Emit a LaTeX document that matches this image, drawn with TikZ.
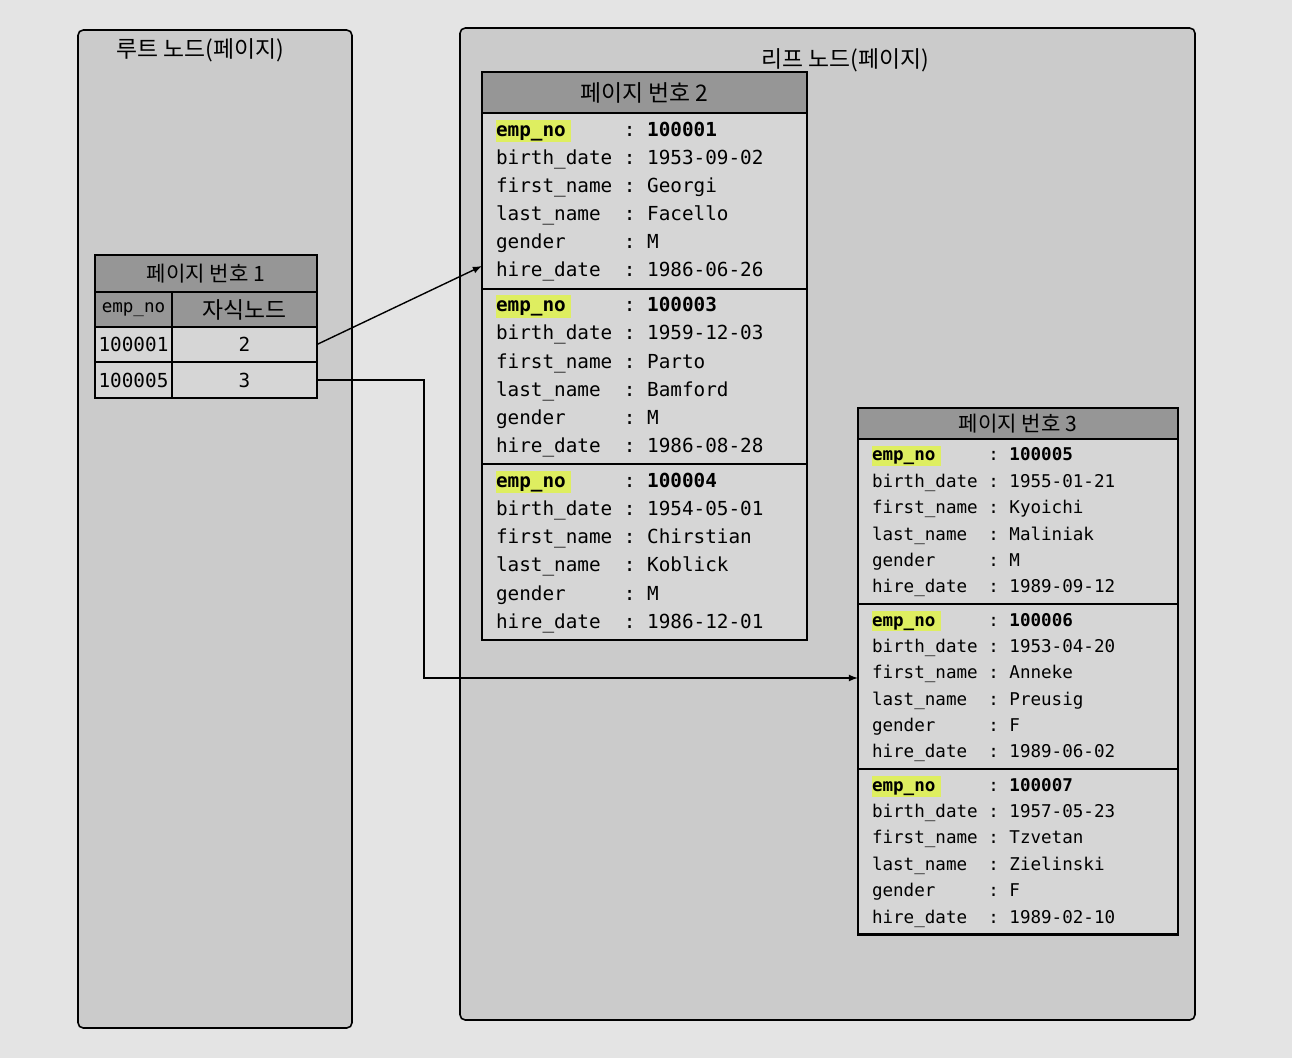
\documentclass[tikz,border=0pt]{standalone}
\usepackage{fontspec}
\setmonofont{DejaVu Sans Mono}
\newfontfamily\kr{Noto Sans CJK KR}
\usetikzlibrary{positioning}

\definecolor{pagebg}{RGB}{228,228,228}
\definecolor{panelgray}{RGB}{203,203,203}
\definecolor{bodygray}{RGB}{214,214,214}
\definecolor{headgray}{RGB}{150,150,150}
\definecolor{marker}{RGB}{222,238,96}

% yellow marker stroke behind a word
\newcommand\marked[1]{\rlap{\color{marker}\rule[-0.3em]{3.9em}{1.15em}}#1}
% one employee record
\newcommand\emprec[6]{\begin{tabular}{@{}l@{\hspace{0.6em}:\hspace{0.6em}}l@{}}
\marked{\textbf{emp\_no}}\hspace*{2.4em} & \textbf{#1}\\
birth\_date & #2\\
first\_name & #3\\
last\_name & #4\\
gender & #5\\
hire\_date & #6
\end{tabular}}

\begin{document}
\begin{tikzpicture}
        [x=0.02cm, y=-0.02cm,
        panel/.style={draw, line width=0.9pt, fill=panelgray, rounded corners=3pt},
        title/.style={font=\kr\fontsize{13}{15}\selectfont},
        cell/.style={rectangle, draw, line width=1.2pt, fill=bodygray, outer sep=0pt, inner sep=2pt,
          font=\ttfamily\fontsize{11}{13}\selectfont},
        cellHead/.style={cell, fill=headgray},
        record/.style={rectangle, draw, line width=1.2pt, fill=bodygray, outer sep=0pt,
          inner xsep=8pt, inner ysep=2pt, align=left},
        link/.style={line width=0.8pt, -latex}]
        \fill[pagebg] (0,0) rectangle (1292,1058);
        \draw[panel] (78,30) rectangle (352,1028);
        \draw[panel] (460,28) rectangle (1195,1020);
        \node[title] (rootTitle) at (200,50) {루트 노드(페이지)};
        \node[title] (leafTitle) at (845,60) {리프 노드(페이지)};

        % root page
        \node[cellHead, minimum width=4.44cm, minimum height=0.74cm, anchor=north west, font=\kr\fontsize{12}{14}\selectfont] (p1h) at (95,255) {페이지 번호 1};
        \node[cellHead, minimum width=1.54cm, minimum height=0.7cm, below right=0pt and 0pt of p1h.south west, font=\ttfamily\fontsize{10}{12}\selectfont] (k0) {emp\_no};
        \node[cellHead, minimum width=2.9cm, minimum height=0.7cm, right=0pt of k0, font=\kr\fontsize{13}{15}\selectfont] (c0) {자식노드};
        \node[cell, minimum width=1.54cm, minimum height=0.7cm, below=0pt of k0] (k1) {100001};
        \node[cell, minimum width=2.9cm, minimum height=0.7cm, right=0pt of k1] (c1) {2};
        \node[cell, minimum width=1.54cm, minimum height=0.72cm, below=0pt of k1] (k2) {100005};
        \node[cell, minimum width=2.9cm, minimum height=0.72cm, right=0pt of k2] (c2) {3};

        % leaf page 2
        \node[cellHead, minimum width=6.5cm, minimum height=0.82cm, anchor=north west, font=\kr\fontsize{13}{15}\selectfont] (p2h) at (482,72) {페이지 번호 2};
        \node[record, text width=5.94cm, minimum height=3.4cm, below=0pt of p2h, font=\ttfamily\fontsize{11}{16}\selectfont] (p2r1) {\emprec{100001}{1953-09-02}{Georgi}{Facello}{M}{1986-06-26}};
        \node[record, text width=5.94cm, minimum height=3.4cm, below=0pt of p2r1, font=\ttfamily\fontsize{11}{16}\selectfont] (p2r2) {\emprec{100003}{1959-12-03}{Parto}{Bamford}{M}{1986-08-28}};
        \node[record, text width=5.94cm, minimum height=3.4cm, below=0pt of p2r2, font=\ttfamily\fontsize{11}{16}\selectfont] (p2r3) {\emprec{100004}{1954-05-01}{Chirstian}{Koblick}{M}{1986-12-01}};

        % leaf page 3
        \node[cellHead, minimum width=6.4cm, minimum height=0.62cm, anchor=north west, font=\kr\fontsize{12}{14}\selectfont] (p3h) at (858,408) {페이지 번호 3};
        \node[record, text width=5.84cm, minimum height=3.25cm, below=0pt of p3h, font=\ttfamily\fontsize{10}{15}\selectfont] (p3r1) {\emprec{100005}{1955-01-21}{Kyoichi}{Maliniak}{M}{1989-09-12}};
        \node[record, text width=5.84cm, minimum height=3.25cm, below=0pt of p3r1, font=\ttfamily\fontsize{10}{15}\selectfont] (p3r2) {\emprec{100006}{1953-04-20}{Anneke}{Preusig}{F}{1989-06-02}};
        \node[record, text width=5.84cm, minimum height=3.25cm, below=0pt of p3r2, font=\ttfamily\fontsize{10}{15}\selectfont] (p3r3) {\emprec{100007}{1957-05-23}{Tzvetan}{Zielinski}{F}{1989-02-10}};

        % child pointers
        \coordinate (toP2) at (482,266);
        \coordinate (turn) at (424,678);
        \draw[link] (c1.east) -- (toP2);
        \draw[link] (c2.east) -| (turn) -- (p3r2.west |- turn);
    \end{tikzpicture}
\end{document}
